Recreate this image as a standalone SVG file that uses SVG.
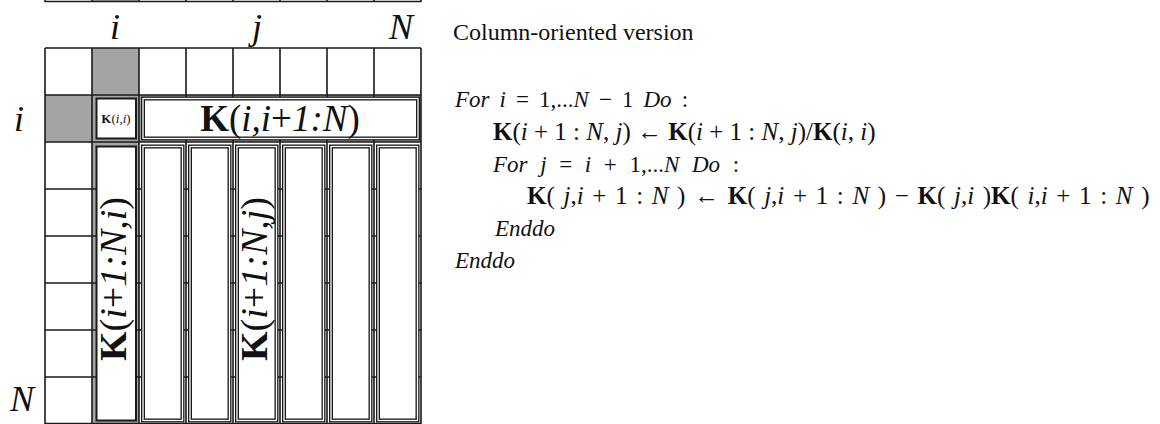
<svg xmlns="http://www.w3.org/2000/svg" width="1160" height="424" viewBox="0 0 1160 424">
<style>
.grid{stroke:#1a1a1a;stroke-width:1.6;fill:none}
.gray{fill:#a4a4a4;stroke:none}
.box{fill:#fff;stroke:#1a1a1a;stroke-width:2}
.dbl{fill:#fff;stroke:#1a1a1a;stroke-width:4}
.dblin{fill:none;stroke:#fff;stroke-width:1.3}
.lbl{font-family:"Liberation Serif",serif;font-style:italic;fill:#111}
.m{font-family:"Liberation Serif",serif;fill:#111;font-size:23px}
.mk{font-family:"Liberation Serif",serif;fill:#111;font-size:25px}
.b{font-weight:bold;font-style:normal}
.it{font-style:italic}
.up{font-style:normal}
.title{font-family:"Liberation Serif",serif;fill:#111;font-size:24px}
</style>
<rect width="1160" height="424" fill="#fff"/>
<g id="matrix">
  <rect class="gray" x="92" y="-2" width="47" height="4"/>
  <rect class="gray" x="92" y="48" width="47" height="47"/>
  <rect class="gray" x="45" y="95" width="47" height="47"/>
  <rect class="gray" x="92" y="95" width="47" height="329"/>
  <rect class="gray" x="139" y="95" width="282" height="47"/>
  <path class="grid" d="M45,1.5H421 M45,48H421 M45,95H421 M45,142H421 M45,189H421 M45,236H421 M45,283H421 M45,330H421 M45,377H421 M45,423.5H421
  M45,-2V2 M92,-2V2 M139,-2V2 M186,-2V2 M233,-2V2 M280,-2V2 M327,-2V2 M374,-2V2 M421,-2V2
  M45,48V424 M92,48V424 M139,48V424 M186,48V424 M233,48V424 M280,48V424 M327,48V424 M374,48V424 M421,48V424"/>
</g>
<g id="Kii">
  <rect class="box" x="96.5" y="98.5" width="39.5" height="40"/>
  <text class="lbl" x="116" y="123" font-size="13" text-anchor="middle"><tspan class="b">K</tspan><tspan class="up">(</tspan>i,i<tspan class="up">)</tspan></text>
</g>
<g id="Krow">
  <rect class="dbl" x="143" y="98.5" width="275" height="40"/>
  <rect class="dblin" x="143" y="98.5" width="275" height="40"/>
  <text class="lbl" x="280" y="131" font-size="37" text-anchor="middle"><tspan class="b">K</tspan><tspan class="up">(</tspan>i,i<tspan class="up">+</tspan>1:N<tspan class="up">)</tspan></text>
</g>
<g id="Kcoli">
  <rect class="box" x="96.5" y="146.5" width="39.5" height="274"/>
  <text class="lbl" transform="translate(126,279) rotate(-90)" font-size="38" text-anchor="middle"><tspan class="b">K</tspan><tspan class="up">(</tspan>i<tspan class="up">+</tspan>1:N,i<tspan class="up">)</tspan></text>
</g>
<g id="cols">
  <rect class="dbl" x="143" y="146.5" width="39.5" height="274"/><rect class="dblin" x="143" y="146.5" width="39.5" height="274"/>
  <rect class="dbl" x="190" y="146.5" width="39.5" height="274"/><rect class="dblin" x="190" y="146.5" width="39.5" height="274"/>
  <rect class="dbl" x="237" y="146.5" width="39.5" height="274"/><rect class="dblin" x="237" y="146.5" width="39.5" height="274"/>
  <rect class="dbl" x="284" y="146.5" width="39.5" height="274"/><rect class="dblin" x="284" y="146.5" width="39.5" height="274"/>
  <rect class="dbl" x="331" y="146.5" width="39.5" height="274"/><rect class="dblin" x="331" y="146.5" width="39.5" height="274"/>
  <rect class="dbl" x="378" y="146.5" width="39.5" height="274"/><rect class="dblin" x="378" y="146.5" width="39.5" height="274"/>
</g>
<g id="Kcolj">
  <text class="lbl" transform="translate(267,279) rotate(-90)" font-size="38" text-anchor="middle"><tspan class="b">K</tspan><tspan class="up">(</tspan>i<tspan class="up">+</tspan>1:N,j<tspan class="up">)</tspan></text>
</g>
<g id="labels">
  <text class="lbl" x="115" y="39" font-size="36" text-anchor="middle">i</text>
  <text class="lbl" x="257" y="39" font-size="36" text-anchor="middle">j</text>
  <text class="lbl" x="401" y="39" font-size="36" text-anchor="middle">N</text>
  <text class="lbl" x="19" y="131" font-size="36" text-anchor="middle">i</text>
  <text class="lbl" x="22" y="411" font-size="36" text-anchor="middle">N</text>
</g>
<g id="code">
  <text class="title" x="453" y="40">Column-oriented version</text>
  <text class="m" x="455" y="107" word-spacing="4.3" xml:space="preserve"><tspan class="it">For i</tspan> = 1,...<tspan class="it">N</tspan> − 1 <tspan class="it">Do</tspan> :</text>
  <text class="mk" x="493" y="140" xml:space="preserve"><tspan class="b">K</tspan>(<tspan class="it">i</tspan> + 1 : <tspan class="it">N</tspan>, <tspan class="it">j</tspan>) ← <tspan class="b">K</tspan>(<tspan class="it">i</tspan> + 1 : <tspan class="it">N</tspan>, <tspan class="it">j</tspan>)/<tspan class="b">K</tspan>(<tspan class="it">i</tspan>, <tspan class="it">i</tspan>)</text>
  <text class="m" x="493" y="172" word-spacing="6.9" xml:space="preserve"><tspan class="it">For j</tspan> = <tspan class="it">i</tspan> + 1,...<tspan class="it">N Do</tspan> :</text>
  <text class="mk" x="527" y="204" word-spacing="2.4" xml:space="preserve"><tspan class="b">K</tspan>( <tspan class="it">j</tspan>,<tspan class="it">i</tspan> + 1 : <tspan class="it">N</tspan> ) ← <tspan class="b">K</tspan>( <tspan class="it">j</tspan>,<tspan class="it">i</tspan> + 1 : <tspan class="it">N</tspan> ) − <tspan class="b">K</tspan>( <tspan class="it">j</tspan>,<tspan class="it">i</tspan> )<tspan class="b">K</tspan>( <tspan class="it">i</tspan>,<tspan class="it">i</tspan> + 1 : <tspan class="it">N</tspan> )</text>
  <text class="m it" x="495" y="236">Enddo</text>
  <text class="m it" x="455" y="268">Enddo</text>
</g>
</svg>
